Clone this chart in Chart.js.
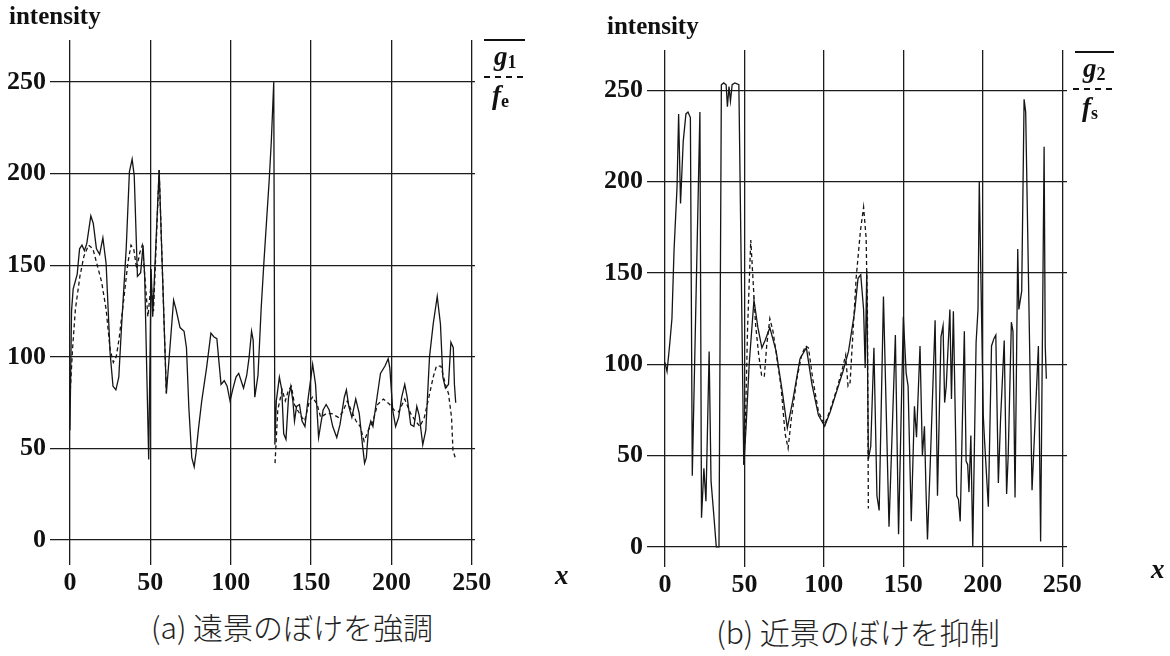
<!DOCTYPE html>
<html>
<head>
<meta charset="utf-8">
<script src="https://cdn.jsdelivr.net/npm/chart.js@4.4.1/dist/chart.umd.min.js"></script>
<style>
  body { margin: 0; background: #fff; }
  #page { position: relative; width: 1170px; height: 656px; overflow: hidden; background: #fff; }
  canvas { position: absolute; }
  .lbl { position: absolute; font-family: 'Liberation Serif', serif; color: #111; white-space: nowrap; }
  .ylab { font-weight: bold; font-size: 25px; }
  .xvar { font-weight: bold; font-style: italic; font-size: 27px; }
  .sym { font-weight: bold; font-size: 27px; line-height: 28px; }
  .sym i { font-style: italic; }
  .sym sub { font-size: 18px; vertical-align: -3px; font-style: normal; }
  .solid { position: absolute; border-top: 2px solid #111; }
  .dash { position: absolute; border-top: 2px dashed #111; }
  .cap { position: absolute; font-family: 'Noto Sans CJK JP', sans-serif; font-weight: 300; font-size: 30px; color: #222; white-space: nowrap; transform: translateX(-50%); }
</style>
</head>
<body>
<div id="page">
  <canvas id="chartA" width="590" height="600" style="left:0;top:0"></canvas>
  <canvas id="chartB" width="580" height="600" style="left:590px;top:0"></canvas>

  <div class="lbl ylab" style="left:9px;top:2px">intensity</div>
  <div class="lbl ylab" style="left:607px;top:12px">intensity</div>

  <div class="solid" style="left:484px;top:39px;width:41px"></div>
  <div class="lbl sym" style="left:494px;top:42px"><i>g</i><sub>1</sub></div>
  <div class="dash" style="left:484px;top:76px;width:39px"></div>
  <div class="lbl sym" style="left:492px;top:81px"><i>f</i><sub>e</sub></div>

  <div class="solid" style="left:1075px;top:51px;width:39px"></div>
  <div class="lbl sym" style="left:1083px;top:54px"><i>g</i><sub>2</sub></div>
  <div class="dash" style="left:1073px;top:88px;width:39px"></div>
  <div class="lbl sym" style="left:1082px;top:93px"><i>f</i><sub>s</sub></div>

  <div class="lbl xvar" style="left:555px;top:560px">x</div>
  <div class="lbl xvar" style="left:1151px;top:554px">x</div>

  <div class="cap" style="left:292px;top:604px">(a) 遠景のぼけを強調</div>
  <div class="cap" style="left:858px;top:609px">(b) 近景のぼけを抑制</div>
</div>

<script>
const xTicks = [0, 50, 100, 150, 200, 250];
const yTicks = [0, 50, 100, 150, 200, 250];

// (a) g1 solid
const g1X = [0, 1, 2, 4.5, 6, 7.5, 9, 10.5, 13, 14.5,
  16.5, 18.5, 20.5, 22.5, 25, 26.8, 28.6, 30.4, 32, 35,
  37, 38.7, 40, 42, 44, 45.5, 46.5, 49, 50.5, 51.5,
  55.5, 60, 64.5, 66, 68.5, 71, 72.5, 74, 75.8, 77.3,
  78.5, 80, 82, 85, 87.7, 89.5, 91.4, 94, 96, 97.8,
  99.6, 101.5, 103.3, 105, 108, 110, 111.5, 113, 114, 115,
  117, 119, 120.7, 122.6, 124, 125.3, 126.8, 127.5, 128.4, 130.3,
  131.8, 133, 134.4, 136, 137.4, 138.7, 139.7, 141, 142.8, 144.4,
  146.2, 148, 151, 152.8, 154.7, 156, 157.5, 159.4, 161.3, 163.5,
  166, 168, 170.7, 172, 173.5, 175.4, 177.8, 180, 182, 183.3,
  184.4, 185.7, 187.2, 188.5, 190.4, 193.2, 196, 198, 199, 200.8,
  202.6, 204.5, 206.4, 208.3, 209.8, 212, 214, 215.8, 217.3, 219.5,
  221.4, 223.7, 226, 228.5, 230.5, 232, 233.6, 235.5, 237, 238.5,
  239.2, 240];
const g1Y = [60, 125, 137, 145, 159, 161, 158, 162, 177, 173,
  159, 156, 165, 151, 102, 84, 82, 89, 115, 159,
  201, 208, 199, 144, 146, 161, 144, 44, 148, 122,
  202, 80, 131, 126, 116, 114, 105, 72, 45, 40,
  48, 61, 76, 94, 113, 111, 110, 85, 87, 84,
  76, 83, 89, 91, 83, 90, 100, 114, 109, 78,
  90, 127, 152, 178, 197, 218, 250, 52, 76, 89,
  82, 58, 55, 78, 84, 76, 65, 73, 74, 65,
  62, 76, 96, 85, 56, 63, 71, 74, 71, 62,
  56, 63, 78, 82, 73, 67, 77, 69, 52, 42,
  45, 60, 65, 62, 74, 91, 95, 99, 94, 71,
  62, 67, 78, 85, 78, 63, 62, 73, 68, 52,
  60, 100, 118, 133, 118, 89, 83, 85, 108, 105,
  85, 75];

// (a) fe dashed (hidden under g1 between the two parts)
const feX = [0, 1.6, 3.4, 6.2, 8.7, 11.6, 14.3, 17, 19.7, 22.5,
  25, 27, 28.8, 30.6, 33.3, 36, 38, 39.7, 41.5, 43.5,
  45, 46.5, 48.5, 50.5, 52, 55.5, 60, 90, 127.6, 129.3,
  132, 134, 136, 137.8, 139.7, 141.5, 144.4, 146, 149, 151,
  153.8, 156, 159.4, 163, 167, 169.7, 172.6, 175.4, 178, 180.6,
  183, 185.7, 188.5, 191.4, 195, 199, 201.7, 204.5, 208.3, 212,
  215, 217.7, 220.5, 223.3, 226, 228, 230.8, 233.6, 235.5, 237.4,
  238.3, 239.7];
const feY = [78, 104, 126, 144, 155, 161, 159, 150, 141, 126,
  104, 97, 100, 110, 130, 151, 161, 159, 148, 157,
  161, 145, 122, 140, 125, 202, 80, null, 42, 71,
  82, 76, 82, 84, 74, 71, 67, 65, 76, 78,
  74, 67, 69, 69, 67, 70, 76, 70, 65, 62,
  54, 60, 65, 74, 77, 74, 71, 70, 77, 69,
  65, 62, 67, 78, 89, 95, 95, 85, 80, 67,
  49, 45];

// (b) g2 solid
const g2X = [0, 1.3, 3, 4.4, 5.7, 7.6, 8.6, 9.8, 11.5, 13.2,
  14.5, 16, 17.2, 22, 23, 24.5, 25.8, 27.8, 29, 30.6,
  32.3, 34, 35.5, 37, 38.5, 39.3, 40.3, 41.2, 42.3, 44,
  46.5, 49.6, 51, 53, 56, 58.5, 61, 63, 66, 70,
  74, 77, 80.4, 85, 89, 92.5, 96.6, 100.5, 104, 108,
  112, 115.5, 119.4, 121.5, 123.2, 125, 126, 127, 128, 129.5,
  131.5, 133.4, 134.8, 137.5, 141, 145, 147, 150, 151.8, 153,
  155, 157, 158.3, 160.5, 162, 163.3, 164.3, 165.2, 167, 170,
  171.5, 173.7, 175, 176, 177, 179.3, 180.3, 181.5, 183.6, 184.7,
  185.8, 188.4, 189.5, 190.5, 191.3, 192.5, 193.7, 195.8, 197, 197.8,
  200.3, 201, 203.5, 205.5, 207, 208.2, 209.8, 211.2, 213.5, 215,
  216, 218, 219, 220.3, 222, 222.7, 224.5, 226, 227, 231,
  235, 236.4, 238.6, 239.3, 240];
const g2Y = [101, 96, 111, 125, 162, 197, 237, 188, 222, 237,
  238, 235, 39, 238, 16, 43, 25, 107, 36, 19,
  0, 0, 253, 254, 253, 241, 252, 244, 253, 254,
  253, 45, 65, 100, 135, 120, 109, 113, 120, 107,
  84, 65, 80, 103, 109, 89, 72, 66, 74, 85,
  96, 107, 129, 147, 149, 130, 98, 151, 48, 55,
  109, 28, 20, 137, 11, 116, 7, 126, 95, 88,
  14, 77, 60, 110, 50, 66, 30, 4, 47, 124,
  28, 115, 121, 79, 88, 130, 81, 129, 28, 26,
  14, 118, 47, 45, 30, 61, 0, 112, 130, 200,
  72, 60, 22, 110, 114, 116, 35, 70, 113, 29,
  50, 123, 118, 27, 163, 130, 140, 245, 238, 31,
  110, 3, 219, 110, 92];

// (b) fs dashed
const fsX = [49.5, 50.5, 52, 54, 55.5, 57, 59, 60.8, 62.5, 64,
  66, 68, 71, 73, 75.6, 77.5, 79.5, 83, 86, 88.5,
  90.3, 93, 96.6, 100.5, 104, 108, 111.5, 113.7, 115.2, 116.5,
  117.5, 120.3, 123, 125, 126.6, 127.4, 128];
const fsY = [45, 62, 120, 168, 145, 122, 105, 94, 93, 110,
  125, 118, 100, 88, 62, 54, 70, 92, 105, 110,
  109, 92, 74, 67, 75, 86, 97, 105, 88, 90,
  105, 147, 173, 186, 169, 129, 21];

const ink = '#151515';
const tickFont = { family: 'Liberation Serif', size: 26, weight: 'bold' };

function points(xs, ys) {
  return xs.map((x, i) => ({ x: x, y: ys[i] }));
}

function makeChart(id, solid, dashed, box) {
  new Chart(document.getElementById(id), {
    type: 'line',
    data: {
      datasets: [
        { data: solid, borderColor: ink, borderWidth: 1.3, pointRadius: 0, tension: 0 },
        { data: dashed, borderColor: ink, borderWidth: 1.3, borderDash: [4, 3], pointRadius: 0, tension: 0, spanGaps: false }
      ]
    },
    options: {
      responsive: false,
      animation: false,
      layout: { padding: { left: 0, right: box.padRight, top: box.padTop, bottom: 0 } },
      plugins: { legend: { display: false }, tooltip: { enabled: false } },
      scales: {
        x: {
          type: 'linear',
          min: box.xMin, max: box.xMax,
          afterBuildTicks: s => { s.ticks = xTicks.map(v => ({ value: v })); },
          afterFit: s => { s.height = box.xAxisH; },
          grid: { color: '#1c1c1c', lineWidth: 1.3, drawTicks: false },
          border: { display: false },
          ticks: { font: tickFont, color: '#111', padding: 3, maxRotation: 0, autoSkip: false }
        },
        y: {
          min: box.yMin, max: box.yMax,
          afterBuildTicks: s => { s.ticks = yTicks.map(v => ({ value: v })); },
          afterFit: s => { s.width = box.yAxisW; },
          grid: { color: '#1c1c1c', lineWidth: 1.3, drawTicks: false },
          border: { display: false },
          ticks: { font: tickFont, color: '#111', padding: 4 }
        }
      }
    }
  });
}

makeChart('chartA', points(g1X, g1Y), points(feX, feY),
  { xMin: -12.4, xMax: 252, yMin: -13.6, yMax: 273, padRight: 115, padTop: 40, xAxisH: 35, yAxisW: 50 });
makeChart('chartB', points(g2X, g2Y), points(fsX, fsY),
  { xMin: -11.3, xMax: 253, yMin: -11, yMax: 272, padRight: 103, padTop: 50, xAxisH: 33, yAxisW: 57 });
</script>
</body>
</html>
